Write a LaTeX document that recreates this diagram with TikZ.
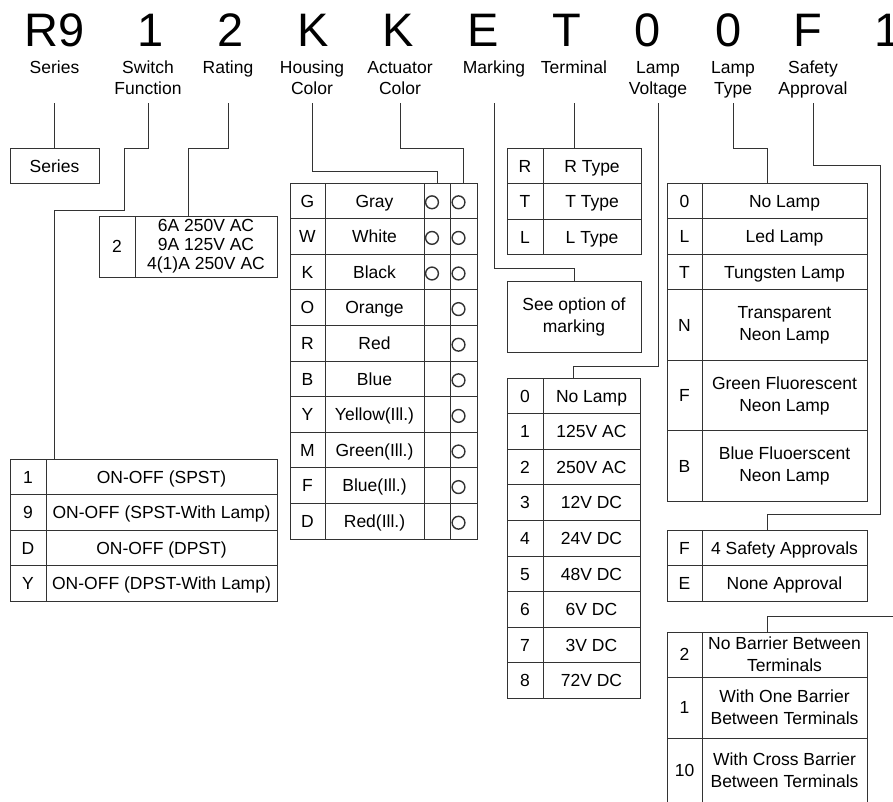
\documentclass[tikz,border=0pt]{standalone}
\usepackage{fontspec}
\setmainfont{Liberation Sans}
\usetikzlibrary{positioning, fit}

\newcommand{\bigfont}{\fontsize{47}{47}\selectfont}
\newcommand{\hdrfont}{\fontsize{17.5}{21}\selectfont}
\newcommand{\cellfont}{\fontsize{17.5}{22}\selectfont}

\begin{document}
\begin{tikzpicture}[
    x=1pt, y=-1pt,
    % styles des cases
    big/.style       = {font=\bigfont, anchor=base, inner sep=0pt},
    hdr/.style       = {font=\hdrfont, align=center, anchor=north, inner sep=0pt},
    tbox/.style      = {draw=black!80, line width=1pt, inner sep=0pt, outer sep=0pt,
                        font=\cellfont},
    cell/.style      = {tbox, minimum height=35.6pt, text height=12.6pt, text depth=0pt},
    codecell/.style  = {cell, minimum width=36pt},
    desc/.style      = {cell, minimum width=#1pt},
    blankcell/.style = {cell, minimum width=#1pt},
    ringcell/.style  = {cell, minimum width=#1pt,
                        path picture={\draw[line width=1.4pt]
                          ([xshift=-5pt, yshift=-1.5pt]path picture bounding box.center)
                          circle[radius=6.4pt];}},
    multicell/.style = {tbox, align=center, minimum width=#1pt},
    conn/.style      = {draw=black!80, line width=1pt},
]

\fill[white] (0,0) rectangle (893,801);
\useasboundingbox (0,0) rectangle (893,801);

% ── Code de commande ─────────────────────────────────────────────────────────
\node[big] (cSeries)   at (55,46.5)  {R9};
\node[big] (cSwitch)   at (151,46.5) {1};
\node[big] (cRating)   at (231,46.5) {2};
\node[big] (cHousing)  at (313,46.5) {K};
\node[big] (cActuator) at (398,46.5) {K};
\node[big] (cMarking)  at (483,46.5) {E};
\node[big] (cTerminal) at (567,46.5) {T};
\node[big] (cVoltage)  at (648,46.5) {0};
\node[big] (cType)     at (729,46.5) {0};
\node[big] (cSafety)   at (808,46.5) {F};
\node[big] (cBarrier)  at (888,46.5) {1};

% ── Titres ───────────────────────────────────────────────────────────────────
\node[hdr] (lblSeries)   at (54.5,58.5) {\strut Series};
\node[hdr] (lblSwitch)   at (148,58.5)  {\strut Switch\\Function};
\node[hdr] (lblRating)   at (228,58.5)  {\strut Rating};
\node[hdr] (lblHousing)  at (312,58.5)  {\strut Housing\\Color};
\node[hdr] (lblActuator) at (400,58.5)  {\strut Actuator\\Color};
\node[hdr] (lblMarking)  at (494,58.5)  {\strut Marking};
\node[hdr] (lblTerminal) at (574,58.5)  {\strut Terminal};
\node[hdr] (lblVoltage)  at (658,58.5)  {\strut Lamp\\Voltage};
\node[hdr] (lblType)     at (733,58.5)  {\strut Lamp\\Type};
\node[hdr] (lblSafety)   at (813,58.5)  {\strut Safety\\Approval};

% ── Series / Switch Function / Rating ────────────────────────────────────────
\node[cell, minimum width=89pt, anchor=north west] (series) at (10,148) {Series};

\node[codecell, anchor=north west] (sw1) at (10,459) {1};
\node[desc=231, right=0pt of sw1] (sw1d) {ON-OFF (SPST)};
\node[codecell, below=0pt of sw1] (sw9) {9};
\node[desc=231, right=0pt of sw9] (sw9d) {ON-OFF (SPST-With Lamp)};
\node[codecell, below=0pt of sw9] (swD) {D};
\node[desc=231, right=0pt of swD] (swDd) {ON-OFF (DPST)};
\node[codecell, below=0pt of swD] (swY) {Y};
\node[desc=231, right=0pt of swY] (swYd) {ON-OFF (DPST-With Lamp)};

\node[codecell, minimum height=61pt, anchor=north west] (rate2) at (99,216) {2};
\node[multicell=142, minimum height=61pt, right=0pt of rate2,
      font=\fontsize{17.5}{19}\selectfont] (rateD)
    {6A 250V AC\\9A 125V AC\\4(1)A 250V AC};

% ── Housing Color / Actuator Color ───────────────────────────────────────────
\node[codecell, minimum width=35pt, anchor=north west] (colG) at (290,183) {G};
\node[desc=99, right=0pt of colG]       (colGd) {Gray};
\node[ringcell=26, right=0pt of colGd]  (colGh) {};
\node[ringcell=27, right=0pt of colGh]  (colGa) {};

\node[codecell, minimum width=35pt, below=0pt of colG] (colW) {W};
\node[desc=99, right=0pt of colW]       (colWd) {White};
\node[ringcell=26, right=0pt of colWd]  (colWh) {};
\node[ringcell=27, right=0pt of colWh]  (colWa) {};

\node[codecell, minimum width=35pt, below=0pt of colW] (colK) {K};
\node[desc=99, right=0pt of colK]       (colKd) {Black};
\node[ringcell=26, right=0pt of colKd]  (colKh) {};
\node[ringcell=27, right=0pt of colKh]  (colKa) {};

\node[codecell, minimum width=35pt, below=0pt of colK] (colO) {O};
\node[desc=99, right=0pt of colO]       (colOd) {Orange};
\node[blankcell=26, right=0pt of colOd] (colOh) {};
\node[ringcell=27, right=0pt of colOh]  (colOa) {};

\node[codecell, minimum width=35pt, below=0pt of colO] (colR) {R};
\node[desc=99, right=0pt of colR]       (colRd) {Red};
\node[blankcell=26, right=0pt of colRd] (colRh) {};
\node[ringcell=27, right=0pt of colRh]  (colRa) {};

\node[codecell, minimum width=35pt, below=0pt of colR] (colB) {B};
\node[desc=99, right=0pt of colB]       (colBd) {Blue};
\node[blankcell=26, right=0pt of colBd] (colBh) {};
\node[ringcell=27, right=0pt of colBh]  (colBa) {};

\node[codecell, minimum width=35pt, below=0pt of colB] (colY) {Y};
\node[desc=99, right=0pt of colY]       (colYd) {Yellow(Ill.)};
\node[blankcell=26, right=0pt of colYd] (colYh) {};
\node[ringcell=27, right=0pt of colYh]  (colYa) {};

\node[codecell, minimum width=35pt, below=0pt of colY] (colM) {M};
\node[desc=99, right=0pt of colM]       (colMd) {Green(Ill.)};
\node[blankcell=26, right=0pt of colMd] (colMh) {};
\node[ringcell=27, right=0pt of colMh]  (colMa) {};

\node[codecell, minimum width=35pt, below=0pt of colM] (colF) {F};
\node[desc=99, right=0pt of colF]       (colFd) {Blue(Ill.)};
\node[blankcell=26, right=0pt of colFd] (colFh) {};
\node[ringcell=27, right=0pt of colFh]  (colFa) {};

\node[codecell, minimum width=35pt, below=0pt of colF] (colD) {D};
\node[desc=99, right=0pt of colD]       (colDd) {Red(Ill.)};
\node[blankcell=26, right=0pt of colDd] (colDh) {};
\node[ringcell=27, right=0pt of colDh]  (colDa) {};

% ── Terminal / Marking ───────────────────────────────────────────────────────
\node[codecell, anchor=north west] (termR) at (507,148) {R};
\node[desc=98, right=0pt of termR] (termRd) {R Type};
\node[codecell, below=0pt of termR] (termT) {T};
\node[desc=98, right=0pt of termT] (termTd) {T Type};
\node[codecell, below=0pt of termT] (termL) {L};
\node[desc=98, right=0pt of termL] (termLd) {L Type};
\node[fit=(termR)(termLd), inner sep=0pt] (termTbl) {};

\node[multicell=134, minimum height=71pt, anchor=north] (mark) at (574,281)
    {See option of\\marking};

% ── Lamp Voltage ─────────────────────────────────────────────────────────────
\node[codecell, anchor=north west] (volt0) at (507,378) {0};
\node[desc=97, right=0pt of volt0] (volt0d) {No Lamp};
\node[codecell, below=0pt of volt0] (volt1) {1};
\node[desc=97, right=0pt of volt1] (volt1d) {125V AC};
\node[codecell, below=0pt of volt1] (volt2) {2};
\node[desc=97, right=0pt of volt2] (volt2d) {250V AC};
\node[codecell, below=0pt of volt2] (volt3) {3};
\node[desc=97, right=0pt of volt3] (volt3d) {12V DC};
\node[codecell, below=0pt of volt3] (volt4) {4};
\node[desc=97, right=0pt of volt4] (volt4d) {24V DC};
\node[codecell, below=0pt of volt4] (volt5) {5};
\node[desc=97, right=0pt of volt5] (volt5d) {48V DC};
\node[codecell, below=0pt of volt5] (volt6) {6};
\node[desc=97, right=0pt of volt6] (volt6d) {6V DC};
\node[codecell, below=0pt of volt6] (volt7) {7};
\node[desc=97, right=0pt of volt7] (volt7d) {3V DC};
\node[codecell, below=0pt of volt7] (volt8) {8};
\node[desc=97, right=0pt of volt8] (volt8d) {72V DC};
\node[fit=(volt0)(volt8d), inner sep=0pt] (voltTbl) {};

% ── Lamp Type ────────────────────────────────────────────────────────────────
\node[codecell, minimum width=35pt, anchor=north west] (type0) at (667,183) {0};
\node[desc=165, right=0pt of type0] (type0d) {No Lamp};
\node[codecell, minimum width=35pt, below=0pt of type0] (typeL) {L};
\node[desc=165, right=0pt of typeL] (typeLd) {Led Lamp};
\node[codecell, minimum width=35pt, below=0pt of typeL] (typeT) {T};
\node[desc=165, right=0pt of typeT] (typeTd) {Tungsten Lamp};
\node[codecell, minimum width=35pt, minimum height=70.5pt, below=0pt of typeT] (typeN) {N};
\node[multicell=165, minimum height=70.5pt, right=0pt of typeN] (typeNd)
    {Transparent\\Neon Lamp};
\node[codecell, minimum width=35pt, minimum height=70.5pt, below=0pt of typeN] (typeF) {F};
\node[multicell=165, minimum height=70.5pt, right=0pt of typeF] (typeFd)
    {Green Fluorescent\\Neon Lamp};
\node[codecell, minimum width=35pt, minimum height=71pt, below=0pt of typeF] (typeB) {B};
\node[multicell=165, minimum height=71pt, right=0pt of typeB] (typeBd)
    {Blue Fluoerscent\\Neon Lamp};
\node[fit=(type0)(typeBd), inner sep=0pt] (typeTbl) {};

% ── Safety Approval ──────────────────────────────────────────────────────────
\node[codecell, minimum width=35pt, anchor=north west] (safeF) at (667,530) {F};
\node[desc=165, right=0pt of safeF] (safeFd) {4 Safety Approvals};
\node[codecell, minimum width=35pt, below=0pt of safeF] (safeE) {E};
\node[desc=165, right=0pt of safeE] (safeEd) {None Approval};
\node[fit=(safeF)(safeEd), inner sep=0pt] (safetyTbl) {};

% ── Barrier ──────────────────────────────────────────────────────────────────
\node[codecell, minimum width=35pt, minimum height=45pt, anchor=north west] (bar2) at (667,632) {2};
\node[multicell=165, minimum height=45pt, right=0pt of bar2] (bar2d)
    {No Barrier Between\\Terminals};
\node[codecell, minimum width=35pt, minimum height=61pt, below=0pt of bar2] (bar1) {1};
\node[multicell=165, minimum height=61pt, right=0pt of bar1] (bar1d)
    {With One Barrier\\Between Terminals};
\node[codecell, minimum width=35pt, minimum height=64pt, below=0pt of bar1] (bar10) {10};
\node[multicell=165, minimum height=64pt, right=0pt of bar10] (bar10d)
    {With Cross Barrier\\Between Terminals};
\node[fit=(bar2)(bar10d), inner sep=0pt] (barrierTbl) {};

% ── Liaisons ─────────────────────────────────────────────────────────────────
\draw[conn] (lblSeries |- 0,103) -- (series.north);
\draw[conn] (lblSwitch |- 0,103) -- (lblSwitch |- 0,148) -| (124,210)
            -| ([xshift=8pt]sw1.north east);
\draw[conn] (lblRating |- 0,103) -- (lblRating |- 0,148) -| ([xshift=-18pt]rateD.north);
\draw[conn] (lblHousing |- 0,103) -- (lblHousing |- 0,171) -| (colGh.north);
\draw[conn] (lblActuator |- 0,103) -- (lblActuator |- 0,148) -| (colGa.north);
\draw[conn] (lblMarking |- 0,103) -- (lblMarking |- 0,268) -| (mark.north);
\draw[conn] (lblTerminal |- 0,103) -- (lblTerminal |- termTbl.north);
\draw[conn] (lblVoltage |- 0,103) -- (lblVoltage |- 0,366) -| (voltTbl.north);
\draw[conn] (lblType |- 0,103) -- (lblType |- 0,148) -| (typeTbl.north);
\draw[conn] (lblSafety |- 0,103) -- (lblSafety |- 0,165) -| (880,514) -| (safetyTbl.north);
\coordinate (barrierIn) at (905,616);
\draw[conn] (barrierIn) -| (barrierTbl.north);

\end{tikzpicture}
\end{document}
